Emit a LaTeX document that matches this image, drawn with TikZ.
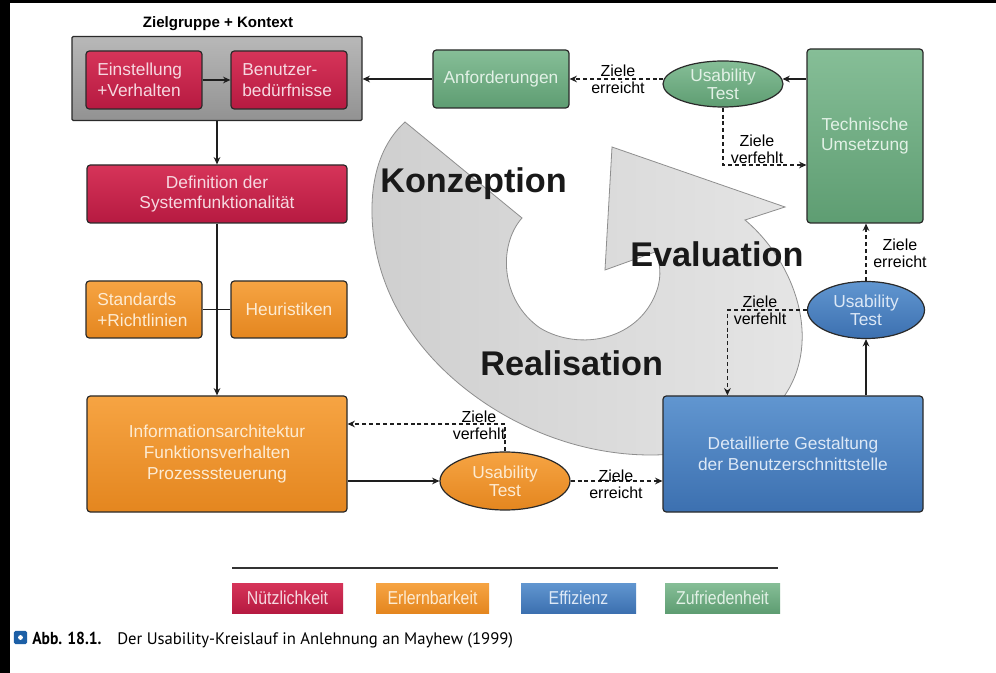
\documentclass[tikz,border=0pt]{standalone}
\usepackage{fontspec}
\setmainfont{Liberation Sans}
\newfontfamily\capfont{PT Sans}
\newfontfamily\capboldfont[FakeStretch=0.9]{PT Sans Bold}
\newfontfamily\narrowfont[FakeStretch=0.85]{Liberation Sans}
\usetikzlibrary{arrows.meta,shapes.geometric}
\definecolor{bordc}{HTML}{2A2A2A}
\definecolor{linec}{HTML}{1E1E1E}
\definecolor{redA}{HTML}{D63459}
\definecolor{redB}{HTML}{B61A41}
\definecolor{redT}{HTML}{F6D8E0}
\definecolor{oraA}{HTML}{F6A443}
\definecolor{oraB}{HTML}{E4861F}
\definecolor{oraT}{HTML}{FDEBD2}
\definecolor{bluA}{HTML}{6196D0}
\definecolor{bluB}{HTML}{3C70B0}
\definecolor{bluT}{HTML}{DCE8F6}
\definecolor{greA}{HTML}{86BE97}
\definecolor{greB}{HTML}{5E9D72}
\definecolor{greT}{HTML}{E2F1E6}
\definecolor{grayA}{HTML}{B8B8B8}
\definecolor{grayB}{HTML}{929292}
\definecolor{arrA}{HTML}{CFCFCF}
\definecolor{arrB}{HTML}{E6E6E6}
\definecolor{arrE}{HTML}{8E8E8E}
\definecolor{capblue}{HTML}{1C5FA6}
\tikzset{
  box/.style={draw=bordc, line width=0.9pt, rounded corners=2.5pt, inner sep=0pt,
    align=center, font=\fontsize{13}{15.5}\selectfont},
  redb/.style={box, top color=redA, bottom color=redB, text=redT},
  orab/.style={box, top color=oraA, bottom color=oraB, text=oraT},
  blub/.style={box, top color=bluA, bottom color=bluB, text=bluT},
  greb/.style={box, top color=greA, bottom color=greB, text=greT},
  smallbox/.style={minimum width=87pt, minimum height=43.5pt},
  leftbox/.style={smallbox, align=left, text width=70pt},
  usell/.style={ellipse, draw=bordc, line width=0.9pt, inner sep=0pt, align=center,
    font=\fontsize{13}{13.5}\selectfont},
  conn/.style={line width=1.1pt, draw=linec, -{Stealth[length=5.5pt,width=5pt]}},
  plainline/.style={line width=1.1pt, draw=linec},
  dconn/.style={conn, dash pattern=on 3pt off 2.2pt},
  lbl/.style={font=\fontsize{12}{12.75}\selectfont, align=center, text=black, inner sep=0pt},
  bigl/.style={font=\fontsize{25.7}{28}\selectfont\bfseries, anchor=base west, inner sep=0pt, text=black!90},
  legbox/.style={minimum height=22.5pt, inner sep=0pt, font=\narrowfont\fontsize{14}{16}\selectfont}
}
\begin{document}
\begin{tikzpicture}[x=0.75pt,y=-0.75pt]
\useasboundingbox (0,0) rectangle (996,673);
\fill[white] (0,0) rectangle (996,673);
\fill[black] (0,0) rectangle (10,673);
\fill[black] (0,0) rectangle (996,3);

% big grey cycle arrow
\draw[line width=0.6pt, draw=arrE, left color=arrA, right color=arrB]
  (405,122) -- (522,218)
  .. controls (498,245) and (500,300) .. (540,328)
  .. controls (580,352) and (640,340) .. (657,290)
  .. controls (662,275) and (660,262) .. (655,252)
  -- (605,270) -- (612,147) -- (785,207) -- (745,220)
  .. controls (795,262) and (822,340) .. (785,395)
  .. controls (750,455) and (650,470) .. (560,440)
  .. controls (470,410) and (375,330) .. (372,215)
  .. controls (371,170) and (385,140) .. (405,122) -- cycle;

\node[bigl] (konz) at (380,193) {Konzeption};
\node[bigl] (eval) at (630,267) {Evaluation};
\node[bigl] (real) at (480,376) {Realisation};

% group
\node[font=\bfseries\fontsize{11.3}{13}\selectfont, inner sep=0pt] (title) at (218,24) {Zielgruppe + Kontext};
\node[box, rounded corners=1pt, top color=grayA, bottom color=grayB, minimum width=217.5pt, minimum height=63pt] (grp) at (217,78.5) {};
\node[redb, leftbox] (ein) at (144,80) {Einstellung\\+Verhalten};
\node[redb, leftbox] (ben) at (289,80) {Benutzer-\\bedürfnisse};

\node[greb, minimum width=102pt, minimum height=43.5pt] (anf) at (501,79) {Anforderungen};
\node[usell, top color=greA, bottom color=greB, text=greT, minimum width=90pt, minimum height=34.5pt] (ut1) at (723,84) {Usability\\Test};
\node[greb, minimum width=87pt, minimum height=130.5pt] (tech) at (865,136) {Technische\\Umsetzung};

\node[redb, minimum width=195pt, minimum height=43.5pt] (def) at (217,194) {Definition der\\Systemfunktionalität};
\node[orab, leftbox, minimum height=42.75pt] (std) at (144,309.5) {Standards\\+Richtlinien};
\node[orab, smallbox, minimum height=42.75pt] (heu) at (289,309.5) {Heuristiken};

\node[orab, minimum width=195pt, minimum height=87pt] (info) at (217,454) {Informationsarchitektur\\Funktionsverhalten\\Prozesssteuerung};
\node[usell, top color=oraA, bottom color=oraB, text=oraT, minimum width=97.5pt, minimum height=43.5pt] (ut2) at (505,481) {Usability\\Test};

\node[blub, minimum width=195pt, minimum height=87pt] (blue) at (793,454) {Detaillierte Gestaltung\\der Benutzerschnittstelle};
\node[usell, top color=bluA, bottom color=bluB, text=bluT, minimum width=87.75pt, minimum height=42.75pt] (ut3) at (866,310) {Usability\\Test};

% connectors
\draw[conn] (ein) -- (ben);
\draw[conn] (anf.west) -- (grp.east |- anf.west);
\draw[conn] (grp.south) -- (def.north);
\draw[conn] (def.south) -- (info.north);
\draw[plainline] (std.east) -- (heu.west);
\draw[conn] (tech.west |- anf.west) -- ([xshift=-0.8pt]ut1.east |- anf.west);
\draw[dconn] ([xshift=0.8pt]ut1.west |- anf.east) -- (anf.east);
\node[lbl] (l1) at (618,79.5) {Ziele\\erreicht};
\draw[dconn] (ut1.south) |- ([yshift=-21.75pt]tech.west);
\node[lbl] (l2) at (757,149) {Ziele\\verfehlt};
\draw[dconn] (ut3.north) -- (ut3.north |- tech.south);
\node[lbl] (l3) at (900,253) {Ziele\\erreicht};
\draw[conn] (ut3.south |- blue.north) -- (ut3.south);
\draw[dconn] (ut3.west) -| ([xshift=48.75pt]blue.north west);
\node[lbl] (l4) at (760,310) {Ziele\\verfehlt};
\draw[conn] (info.east |- ut2.west) -- (ut2.west);
\draw[dconn] (ut2.north) |- ([yshift=22.5pt]info.east);
\node[lbl] (l5) at (479,425) {Ziele\\verfehlt};
\draw[dconn] (ut2.east) -- (ut2.east -| blue.west);
\node[lbl] (l6) at (616,484) {Ziele\\erreicht};

% legend
\draw[line width=1.4pt, draw=black!80] (232,568) -- (778,568);
\node[legbox, minimum width=83.25pt, top color=redA, bottom color=redB, text=redT] (lg1) at (287.5,598) {Nützlichkeit};
\node[legbox, minimum width=84.75pt, top color=oraA, bottom color=oraB, text=oraT] (lg2) at (432.5,598) {Erlernbarkeit};
\node[legbox, minimum width=86.25pt, top color=bluA, bottom color=bluB, text=bluT] (lg3) at (578.5,598) {Effizienz};
\node[legbox, minimum width=86.25pt, top color=greA, bottom color=greB, text=greT] (lg4) at (722.5,598) {Zufriedenheit};

% caption
\node[fill=capblue, rounded corners=1.2pt, minimum size=10pt, inner sep=0pt] (sq) at (20.5,637.5) {};
\fill[white] (sq.center) circle (1.8pt);
\node[anchor=base west, inner sep=0pt, font=\capboldfont\fontsize{13}{14}\selectfont] (abb) at (32,644) {Abb. 18.1.};
\node[anchor=base west, inner sep=0pt, font=\capfont\fontsize{12.5}{14}\selectfont] (cap) at (117,644) {Der Usability-Kreislauf in Anlehnung an Mayhew (1999)};
\end{tikzpicture}
\end{document}
